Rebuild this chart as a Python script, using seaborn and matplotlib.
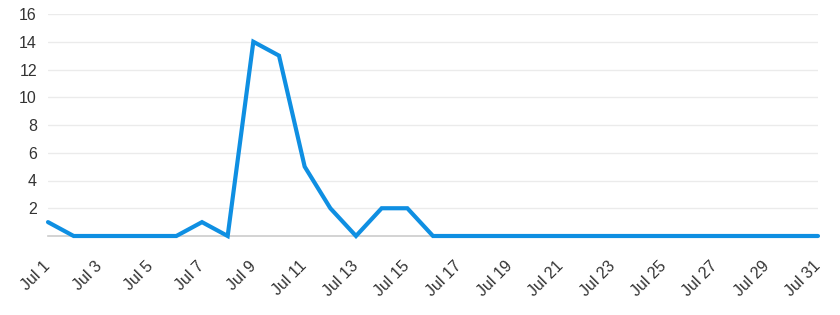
import matplotlib
matplotlib.use("Agg")
import matplotlib.pyplot as plt
import matplotlib.transforms as mtransforms
import seaborn as sns
import pandas as pd

days = list(range(1, 32))
values = [1, 0, 0, 0, 0, 0, 1, 0, 14, 13, 5, 2, 0, 2, 2, 0,
          0, 0, 0, 0, 0, 0, 0, 0, 0, 0, 0, 0, 0, 0, 0]
tick_days = list(range(1, 32, 2))
tick_labels = [f"Jul {d}" for d in tick_days]
y_ticks = [2, 4, 6, 8, 10, 12, 14, 16]

sns.set_theme(style="white")
plt.rcParams['font.family'] = ['Liberation Sans', 'DejaVu Sans']

df = pd.DataFrame({"day": days, "value": values})
fig = plt.figure(figsize=(8.4, 3.15), dpi=100)
ax = fig.add_axes([48/840, 1 - 236/315, (818 - 48)/840, (236 - 14)/315])
sns.lineplot(data=df, x="day", y="value", ax=ax, color="#0f8fe2", linewidth=3,
             solid_joinstyle="miter", clip_on=False, zorder=3)
ax.set_xlim(1, 31)
ax.set_ylim(0, 16)
ax.set_yticks(y_ticks)
ax.set_yticklabels([str(v) for v in y_ticks], fontsize=11.5, color="#333333")
ax.set_xticks(tick_days)
ax.set_xticklabels(tick_labels, rotation=45, ha="right", va="center",
                   rotation_mode="anchor", fontsize=11.5, color="#333333")
offset = mtransforms.ScaledTranslation(3/100, 0, fig.dpi_scale_trans)
for lbl in ax.get_xticklabels():
    lbl.set_transform(lbl.get_transform() + offset)
ax.tick_params(axis="both", length=0)
ax.tick_params(axis="y", pad=8)
ax.tick_params(axis="x", pad=20)
ax.grid(axis="y", color="#ebebeb", linewidth=1)
ax.grid(axis="x", visible=False)
for s in ["top", "right", "left"]:
    ax.spines[s].set_visible(False)
ax.spines["bottom"].set_color("#cccccc")
ax.spines["bottom"].set_linewidth(1.2)
ax.set_xlabel("")
ax.set_ylabel("")
fig.savefig("out.png", dpi=100)
